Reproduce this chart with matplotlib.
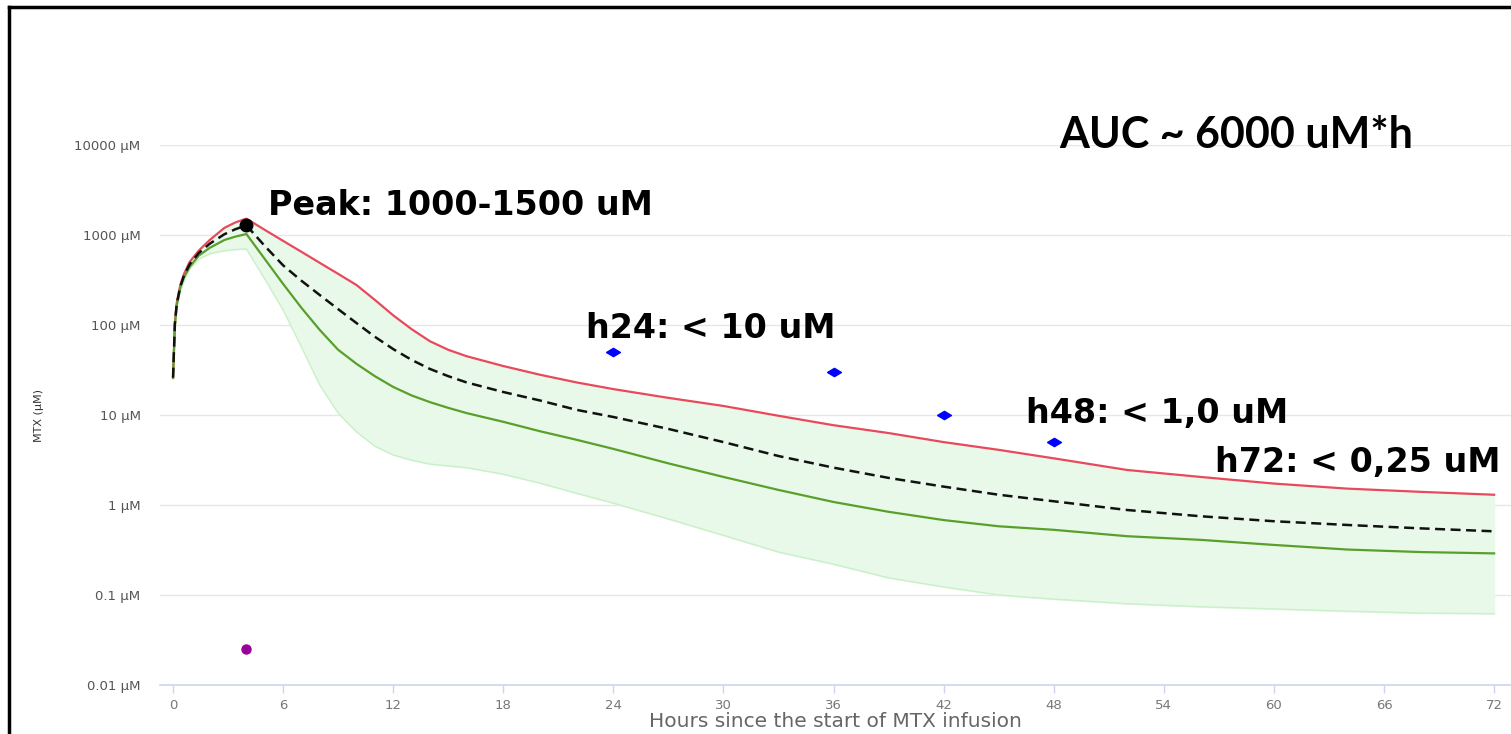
import numpy as np
import matplotlib.pyplot as plt
from matplotlib.lines import Line2D

# --- data (hours, uM) ---
hours = [0, 0.1, 0.2, 0.4, 0.6, 0.9, 1.4, 2, 2.8, 3.4, 4,
         5, 6, 7, 8, 9, 10, 11, 12, 13, 14, 15, 16, 18, 20, 22, 24,
         27, 30, 33, 36, 39, 42, 45, 48, 52, 56, 60, 64, 68, 72]

upper = [26, 105, 175, 280, 370, 500, 670, 880, 1200, 1380, 1520,
         1140, 860, 650, 490, 370, 278, 190, 128, 90, 66, 53, 45, 35, 28, 23, 19.4,
         15.5, 12.6, 9.8, 7.7, 6.3, 5.0, 4.1, 3.3, 2.45, 2.05, 1.73, 1.52, 1.4, 1.3]

median = [26, 102, 170, 270, 355, 470, 630, 800, 1020, 1160, 1280,
          755, 460, 310, 215, 150, 105, 74, 54, 41, 32.5, 27, 23, 18, 14.5, 11.4, 9.5,
          7.0, 5.0, 3.5, 2.6, 2.0, 1.6, 1.3, 1.1, 0.88, 0.75, 0.66, 0.6, 0.55, 0.51]

typical = [26, 100, 165, 260, 340, 440, 590, 720, 880, 960, 1025,
           541, 286, 155, 88, 53, 37, 27, 20.5, 16.5, 13.9, 12, 10.5, 8.4, 6.6, 5.3, 4.2,
           2.9, 2.05, 1.47, 1.08, 0.84, 0.68, 0.58, 0.53, 0.45, 0.41, 0.36, 0.32, 0.30, 0.29]

lower = [25, 95, 155, 240, 310, 420, 540, 620, 670, 690, 700,
         325, 147, 57, 21.5, 10.5, 6.5, 4.5, 3.6, 3.15, 2.85, 2.72, 2.6, 2.2, 1.75, 1.35, 1.05,
         0.7, 0.46, 0.3, 0.22, 0.155, 0.123, 0.1, 0.09, 0.08, 0.074, 0.07, 0.066, 0.063, 0.062]

sample_h = [24, 36, 42, 48]
sample_c = [50, 30, 10, 5]

peak_h = 4
peak_c = 1280
low_h = 4
low_c = 0.025

xticks = [0, 6, 12, 18, 24, 30, 36, 42, 48, 54, 60, 66, 72]
yticks = [0.01, 0.1, 1, 10, 100, 1000, 10000]
ylabels = ['0.01 µM', '0.1 µM', '1 µM', '10 µM', '100 µM', '1000 µM', '10000 µM']


def main():
    fig = plt.figure(figsize=(15.11, 7.34), dpi=100)
    ax = fig.add_axes([160 / 1511, 49 / 734, 1351 / 1511, 540 / 734])

    ax.fill_between(hours, lower, upper, color='#e9f9e9', zorder=1)
    ax.plot(hours, lower, color='#c9f0c9', lw=1, zorder=2)
    ax.plot(hours, upper, color='#e8495c', lw=1.6, zorder=3)
    ax.plot(hours, typical, color='#58a02a', lw=1.6, zorder=3)
    ax.plot(hours, median, color='#111111', lw=1.8, ls=(0, (4, 2.2)), zorder=4)

    ax.plot(peak_h, peak_c, 'o', color='black', ms=9, zorder=5)
    ax.plot(low_h, low_c, 'o', color='#990099', ms=6.5, zorder=5)
    diamond = [(-1, 0), (0, 0.6), (1, 0), (0, -0.6), (-1, 0)]
    ax.plot(sample_h, sample_c, ls='none', marker=diamond, color='#0000ff',
            ms=10, zorder=5)

    ax.set_yscale('log')
    ax.set_ylim(0.01, 10000)
    ax.set_xlim(-0.71, 72.92)
    ax.set_yticks(yticks)
    ax.set_yticklabels(ylabels)
    ax.minorticks_off()
    ax.set_xticks(xticks)

    ax.yaxis.grid(True, color='#e6e6e6', lw=1)
    ax.set_axisbelow(True)
    # gap in the top grid line
    ax.axhline(10000, xmin=0.3168, xmax=0.6625, color='white', lw=3,
               zorder=0.5, clip_on=False)

    for s in ['top', 'right', 'left']:
        ax.spines[s].set_visible(False)
    ax.spines['bottom'].set_color('#ccd6eb')
    ax.spines['bottom'].set_linewidth(1.2)

    ax.tick_params(axis='y', length=0, pad=14, labelsize=9.5, labelcolor='#555555')
    ax.tick_params(axis='x', length=6, width=1, color='#ccd6eb', pad=4,
                   labelsize=9.5, labelcolor='#777777')

    ax.set_xlabel('Hours since the start of MTX infusion', fontsize=14.5,
                  color='#666666', labelpad=0)
    ax.set_ylabel('MTX (µM)', fontsize=8, color='#333333')
    ax.yaxis.set_label_coords(-0.086, 0.5)

    bold = dict(fontweight='bold', color='black', fontsize=24, va='center',
                ha='left', clip_on=False, zorder=6)
    ax.text(5.18, 2150, 'Peak: 1000-1500 uM', **bold)
    ax.text(22.5, 92, 'h24: < 10 uM', **bold)
    ax.text(46.5, 10.5, 'h48: < 1,0 uM', **bold)
    ax.text(56.8, 3.0, 'h72: < 0,25 uM', **bold)
    ax.text(48.3, 12900, 'AUC ~ 6000 uM*h', fontsize=31, fontweight='bold',
            family='Lato', va='center', ha='left', clip_on=False, zorder=6)

    # frame around the picture
    fig.add_artist(Line2D([9 / 1511, 9 / 1511], [0, 1 - 6.5 / 734],
                          color='black', lw=2.5))
    fig.add_artist(Line2D([9 / 1511, 1], [1 - 6.5 / 734, 1 - 6.5 / 734],
                          color='black', lw=2.5))

    fig.savefig('out.png', dpi=100)
    plt.close(fig)


if __name__ == '__main__':
    main()
